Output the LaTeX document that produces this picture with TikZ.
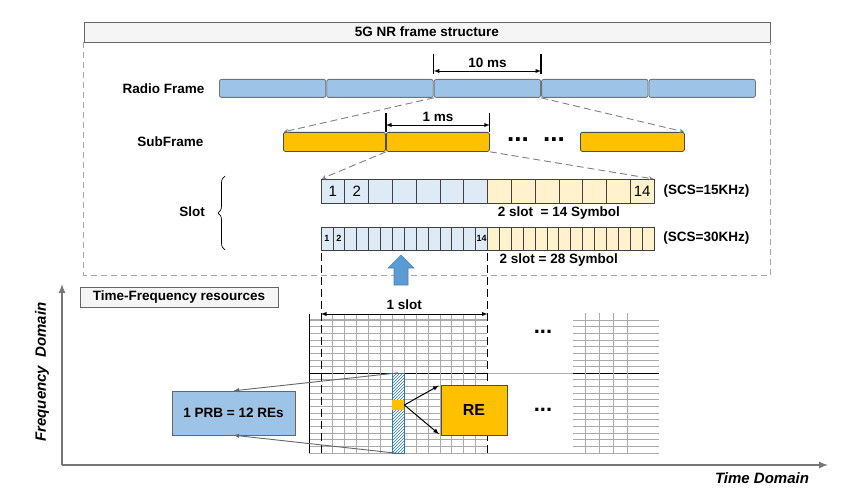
\documentclass[tikz,border=0pt]{standalone}
\usepackage{fontspec}
\setmainfont{Liberation Sans}
\usepackage{xcolor}
\usepackage{tikz}
\usetikzlibrary{positioning}
\usetikzlibrary{patterns}
\usetikzlibrary{decorations.pathreplacing}

\definecolor{rfblue}{HTML}{9DC3E6}
\definecolor{sforange}{HTML}{FFC000}
\definecolor{symblue}{HTML}{DEEBF7}
\definecolor{symyellow}{HTML}{FFF2CC}
\definecolor{upblue}{HTML}{5B9BD5}
\definecolor{hatchblue}{HTML}{2E75B6}
\definecolor{gridgray}{HTML}{ABABAB}
\definecolor{axisgray}{HTML}{767676}

\tikzset{
    lbl/.style={font=\fontsize{13.5}{16}\selectfont\bfseries},
    axislbl/.style={font=\fontsize{15}{18}\selectfont\bfseries\itshape},
    radio/.style={draw=black!55,fill=rfblue,rounded corners=2pt,minimum width=106.4pt,%
        minimum height=18pt,anchor=north west,inner sep=0pt,line width=0.8pt},
    sub/.style={draw=black!70,fill=sforange,rounded corners=2pt,minimum height=19pt,%
        anchor=north west,inner sep=0pt,line width=0.8pt},
    sym/.style={draw=black!75,minimum height=24pt,anchor=north west,inner sep=0pt,%
        outer sep=0pt,line width=0.7pt},
    guide/.style={->,>=stealth,gray,line width=0.9pt,dash pattern=on 7pt off 4pt,shorten >=1pt},
    frame/.style={gray!70,line width=0.8pt,dash pattern=on 6pt off 4pt},
    tick/.style={black,line width=1.3pt},
    dim/.style={latex-latex,line width=0.9pt},
    slotdash/.style={black,line width=0.9pt,dash pattern=on 8pt off 4pt},
    gridline/.style={gridgray,line width=0.8pt},
    pointer/.style={-latex,black!60,line width=0.9pt},
    reptr/.style={-latex,black,line width=1pt,shorten >=2pt},
    axis/.style={-latex,axisgray,line width=2pt},
    dotsbig/.style={font=\fontsize{26}{28}\selectfont\bfseries,inner sep=0pt},
    dotssmall/.style={font=\fontsize{22}{24}\selectfont\bfseries,inner sep=0pt},
}

\begin{document}
\begin{tikzpicture}[x=1pt,y=-1pt]
\useasboundingbox (0,0) rectangle (851,500);

\node[lbl,draw=black!60,fill=gray!8,minimum width=686pt,minimum height=20pt,inner sep=0pt] (title) at (427,32) {5G NR frame structure};
\draw[frame] (title.south west) -- ++(0,233) -| (title.south east);

\foreach \i in {1,...,5}
    \node[radio] (rf\i) at ({219+(\i-1)*107.4},79) {};
\node[lbl,left=11pt of rf1] (rflbl) {Radio Frame};
\draw[tick] ([yshift=5pt]rf3.north west) -- ++(0,-20);
\draw[tick] ([yshift=5pt]rf3.north east) -- ++(0,-20);
\draw[dim] ([yshift=8pt]rf3.north west) -- node[lbl,above=0pt] {10 ms} ([yshift=8pt]rf3.north east);

\node[sub,minimum width=102pt] (sf1) at (283,132) {};
\node[sub,minimum width=103pt] (sf2) at (386,132) {};
\node[sub,minimum width=104pt] (sf3) at (580,132) {};
\node[dotsbig] (sfdots) at (536,140) {...~~...};
\node[lbl,left=76pt of sf1] (sflbl) {SubFrame};
\draw[tick] (sf2.north west) -- ++(0,-19);
\draw[tick] (sf2.north east) -- ++(0,-19);
\draw[dim] ([yshift=7pt]sf2.north west) -- node[lbl,above=0pt] {1 ms} ([yshift=7pt]sf2.north east);

\draw[guide] (rf3.south west) -- (sf1.north west);
\draw[guide] (rf3.south east) -- (sf3.north east);

\foreach \i in {1,...,7}
    \node[sym,fill=symblue,minimum width=23.79pt] (a\i) at ({321+(\i-1)*23.79},179) {};
\foreach \i in {8,...,14}
    \node[sym,fill=symyellow,minimum width=23.79pt] (a\i) at ({321+(\i-1)*23.79},179) {};
\foreach \i in {1,...,14}
    \node[sym,fill=symblue,minimum width=11.89pt,minimum height=23pt] (b\i) at ({321+(\i-1)*11.89},227) {};
\foreach \i in {15,...,28}
    \node[sym,fill=symyellow,minimum width=11.89pt,minimum height=23pt] (b\i) at ({321+(\i-1)*11.89},227) {};
\node[font=\fontsize{15}{17}\selectfont] at (a1) {1};
\node[font=\fontsize{15}{17}\selectfont] at (a2) {2};
\node[font=\fontsize{15}{17}\selectfont] at (a14) {14};
\node[font=\fontsize{9}{10}\selectfont\bfseries,inner sep=0pt] at (b1) {1};
\node[font=\fontsize{9}{10}\selectfont\bfseries,inner sep=0pt] at (b2) {2};
\node[font=\fontsize{9}{10}\selectfont\bfseries,inner sep=0pt] at (b14) {14};
\draw[guide] (sf2.south west) -- (a1.north west);
\draw[guide] (sf2.south east) -- (a14.north east);

\node[lbl,right=6pt of a14] (scs15) {(SCS=15KHz)};
\node[lbl,right=6pt of b28] (scs30) {(SCS=30KHz)};
\node[lbl,below=0pt of a10.south east] (sym14) {2 slot\ \ = 14 Symbol};
\node[lbl,below=0pt of b20.south east] (sym28) {2 slot = 28 Symbol};
\draw[decorate,decoration={brace,amplitude=7pt},line width=0.7pt] (225,250) -- (225,176);
\node[lbl] (slotlbl) at (192,212) {Slot};

\filldraw[fill=upblue,draw=upblue!85!black,line width=0.6pt] (394,285) -- (394,268) -- (388,268) -- (401,255)
    -- (414,268) -- (408,268) -- (408,285) -- cycle;

\node[lbl,draw=black!60,fill=gray!8,minimum width=198pt,minimum height=20pt,inner sep=2pt] (tfr) at (179,297) {Time-Frequency resources};

\coordinate (o) at (62,465);
\coordinate (ytop) at (62,284);
\coordinate (xend) at (828,465);
\draw[axis] (o) -- (ytop);
\draw[axis] (o) -- (xend);
\node[axislbl,rotate=90] (fdom) at (42,372) {Frequency\ \ Domain};
\node[axislbl] (tdom) at (762,478) {Time Domain};

\foreach \k in {0,...,19} {
    \draw[gridline] (309,{320+6.65*\k}) -- (487,{320+6.65*\k});
    \draw[gridline] (573,{320+6.65*\k}) -- (659,{320+6.65*\k});
}
\draw[gridline,line width=1.6pt] (309,320) -- (487,320);
\draw[gridline] (309,453) -- (659,453);
\draw[gridline] (487,373.2) -- (573,373.2);
\draw[black,line width=0.9pt] (309,373.2) -- (487,373.2);
\draw[black,line width=0.9pt] (573,373.2) -- (659,373.2);
\foreach \j in {1,...,13}
    \draw[gridline] ({321+11.89*\j},314) -- ({321+11.89*\j},453);
\foreach \x in {585,599,613,627}
    \draw[gridline] (\x,313) -- (\x,453);
\draw[black,line width=0.8pt] (309,314) -- (309,453);
\coordinate (gb) at (309,453);
\draw[slotdash] ([yshift=-3pt]b1.south west) -- (b1.south west |- gb);
\draw[slotdash] ([yshift=-3pt]b14.south east) -- (b14.south east |- gb);
\coordinate (sl) at (321,314);
\coordinate (sr) at (487.5,314);
\draw[dim] (sl) -- node[lbl,above=1pt] {1 slot} (sr);

\node[dotssmall] (dots1) at (543,332) {...};
\node[dotssmall] (dots2) at (543,410) {...};

\node[draw=hatchblue,line width=0.8pt,preaction={fill=white},pattern=north east lines,pattern color=hatchblue,%
    minimum width=11.89pt,minimum height=79.8pt,inner sep=0pt] (prb) at (398.2,413.1) {};
\node[fill=sforange,minimum width=11.89pt,minimum height=10pt,inner sep=0pt] (re) at (398.2,405) {};

\node[lbl,draw=black!60,fill=rfblue,minimum width=123pt,minimum height=44pt] (prbbox) at (233.5,413) {1 PRB = 12 REs};
\node[draw=black!70,fill=sforange,line width=0.8pt,minimum width=66pt,minimum height=50pt,%
    font=\fontsize{16}{18}\selectfont\bfseries] (rebox) at (474,410) {RE};

\draw[pointer] (prb.north) -- (prbbox.north);
\draw[pointer] (prb.south) -- (prbbox.south);
\draw[reptr] (re.east) -- (rebox.north west);
\draw[reptr] (re.east) -- (rebox.south west);
\end{tikzpicture}
\end{document}
